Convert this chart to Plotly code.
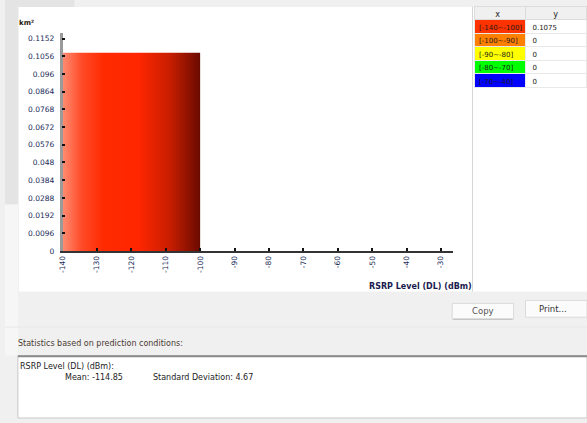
import plotly.graph_objects as go

# ---------------- data ----------------
class_labels = ["[-140~-100]", "[-100~-90]", "[-90~-80]", "[-80~-70]", "[-70~-40]"]
class_lo = [-140, -100, -90, -80, -70]
class_hi = [-100, -90, -80, -70, -40]
class_area = [0.1075, 0, 0, 0, 0]
class_area_text = ["0.1075", "0", "0", "0", "0"]
class_colors = ["#ff3300", "#ff7f00", "#ffff00", "#00ff00", "#0000ff"]
table_header = ["x", "y"]

y_tickvals = [0, 0.0096, 0.0192, 0.0288, 0.0384, 0.048, 0.0576, 0.0672,
              0.0768, 0.0864, 0.096, 0.1056, 0.1152]
y_ticktext = ["0", "0.0096", "0.0192", "0.0288", "0.0384", "0.048", "0.0576",
              "0.0672", "0.0768", "0.0864", "0.096", "0.1056", "0.1152"]
x_tickvals = [-140, -130, -120, -110, -100, -90, -80, -70, -60, -50, -40, -30]
x_ticktext = [str(v) for v in x_tickvals]

stat_title = "RSRP Level (DL) (dBm):"
stat_mean = -114.85
stat_std = 4.67

# ---------------- geometry helpers ----------------
W, H = 587, 423
def px(x): return x / W
def py(y): return 1 - y / H

FONT = "DejaVu Sans"

gradients = {
    "#ff3300": [[0, "#ff8d72"], [0.14, "#ff4a28"], [0.3, "#ff2a00"],
                [0.55, "#ff2600"], [0.78, "#c81e00"], [1, "#6a0a00"]],
}

fig = go.Figure()

for lo, hi, v, c in zip(class_lo, class_hi, class_area, class_colors):
    if v <= 0:
        continue
    fig.add_trace(go.Scatter(
        x=[lo, lo, hi, hi, lo], y=[0, v, v, 0, 0],
        mode="lines", line=dict(width=0), fill="toself",
        fillgradient=dict(type="horizontal",
                          colorscale=gradients.get(c, [[0, c], [1, c]])),
        hoverinfo="skip", showlegend=False))

# table on the right: one table for cell fills, one (nudged) for the text
n = len(class_labels)
fig.add_trace(go.Table(
    domain=dict(x=[px(474), 1], y=[py(295), py(7)]),
    columnwidth=[51, 62],
    header=dict(values=["", ""], fill_color="#f0f0f0",
                line=dict(color="#dcdcdc", width=1), height=13),
    cells=dict(values=[[""] * n, [""] * n],
               fill_color=[class_colors, ["white"] * n],
               line=dict(color="#e8e8e8", width=1), height=13.5)))
fig.add_trace(go.Table(
    domain=dict(x=[px(470), 1], y=[py(291), py(3.5)]),
    columnwidth=[53, 62],
    header=dict(values=table_header, fill_color="rgba(0,0,0,0)",
                line=dict(color="rgba(0,0,0,0)", width=0), height=13,
                font=dict(family=FONT, size=8, color="#222"),
                align="center"),
    cells=dict(values=[class_labels, class_area_text],
               fill_color="rgba(0,0,0,0)",
               line=dict(color="rgba(0,0,0,0)", width=0), height=13.5,
               font=dict(family=FONT, size=7, color="#1a1a1a"),
               align="left")))

shapes = []
def rect(x0, y0, x1, y1, fill, line=None, lw=0, layer="below"):
    shapes.append(dict(type="rect", xref="paper", yref="paper",
                       x0=px(x0), x1=px(x1), y0=py(y1), y1=py(y0),
                       fillcolor=fill, layer=layer,
                       line=dict(color=line or fill, width=lw)))
def hline(x0, x1, y, color, w):
    shapes.append(dict(type="line", xref="paper", yref="paper",
                       x0=px(x0), x1=px(x1), y0=py(y), y1=py(y),
                       line=dict(color=color, width=w), layer="below"))
def vline(x, y0, y1, color, w):
    shapes.append(dict(type="line", xref="paper", yref="paper",
                       x0=px(x), x1=px(x), y0=py(y0), y1=py(y1),
                       line=dict(color=color, width=w), layer="below"))

rect(0, 0, 70, 7, "#e4e4e4")
rect(0, 0, 13, 207, "#e4e4e4")
rect(0, 207, 13, 360, "#f6f6f6")
rect(14, 7, 471, 295, "white")
rect(472, 7, 587, 295, "white")
vline(471.5, 7, 295, "#d4d4d4", 1)
hline(0, 587, 331, "#e8e8e8", 1)
rect(451, 307, 513, 323, "#fbfbfb", "#dadada", 1)
hline(452, 512, 323, "#b8b8b8", 1)
rect(525, 304, 587, 321, "#fbfbfb", "#dadada", 1)
rect(13, 360, 587, 423, "white", "#c8c8c8", 1)
hline(13, 587, 360.5, "#8a8a8a", 2)

annotations = [
    dict(text="<b>km²</b>", x=px(12), y=py(23), xanchor="left", yanchor="middle",
         font=dict(family=FONT, size=7, color="#2a1a10")),
    dict(text="<b>RSRP Level (DL) (dBm)</b>", x=px(473), y=py(290),
         xanchor="right", yanchor="middle",
         font=dict(family=FONT, size=8, color="#1a1a50")),
    dict(text="Copy", x=px(482), y=py(315), xanchor="center", yanchor="middle",
         font=dict(family=FONT, size=8.5, color="#555")),
    dict(text="Print...", x=px(553), y=py(313), xanchor="center", yanchor="middle",
         font=dict(family=FONT, size=8.5, color="#333")),
    dict(text="Statistics based on prediction conditions:", x=px(11), y=py(348),
         xanchor="left", yanchor="middle",
         font=dict(family=FONT, size=8, color="#4a3a30")),
    dict(text=stat_title, x=px(13), y=py(371), xanchor="left", yanchor="middle",
         font=dict(family=FONT, size=8, color="#222")),
    dict(text=f"Mean: {stat_mean:.2f}", x=px(58), y=py(382), xanchor="left",
         yanchor="middle", font=dict(family=FONT, size=8, color="#222")),
    dict(text=f"Standard Deviation: {stat_std:.2f}", x=px(147), y=py(382),
         xanchor="left", yanchor="middle",
         font=dict(family=FONT, size=8, color="#222")),
]
for a in annotations:
    a["showarrow"] = False
    a["xref"] = "paper"
    a["yref"] = "paper"

x0_px, x1_px = 58, 452
y_bot, y_top = 254, 33
x_per_px = 10 / 34.7
y_per_px = 0.1152 / (254 - 39)

fig.update_layout(
    width=W, height=H, margin=dict(l=0, r=0, t=0, b=0),
    paper_bgcolor="#f0f0f0", plot_bgcolor="rgba(0,0,0,0)",
    shapes=shapes, annotations=annotations, showlegend=False,
    xaxis=dict(domain=[px(x0_px), px(x1_px)],
               range=[-140, -140 + (x1_px - x0_px) * x_per_px],
               tickvals=x_tickvals, ticktext=x_ticktext, tickangle=-90,
               ticks="inside", ticklen=3, tickcolor="#111", tickwidth=1.5,
               showgrid=False, zeroline=False, showline=True,
               linecolor="#333", linewidth=2,
               tickfont=dict(family=FONT, size=7.5, color="#1a2a5a"),
               fixedrange=True),
    yaxis=dict(domain=[py(y_bot), py(y_top)],
               range=[0, (y_bot - y_top) * y_per_px],
               tickvals=y_tickvals, ticktext=y_ticktext,
               ticks="inside", ticklen=3, tickcolor="#111", tickwidth=1.5,
               showgrid=False, zeroline=False, showline=True,
               linecolor="#9a9a9a", linewidth=2.5,
               tickfont=dict(family=FONT, size=7.5, color="#1a2a5a"),
               ticklabelstandoff=4, fixedrange=True),
)

fig.write_html(
    "out.html",
    config={"displayModeBar": False},
    post_script="document.body.style.margin='0';document.body.style.overflow='hidden';",
)
